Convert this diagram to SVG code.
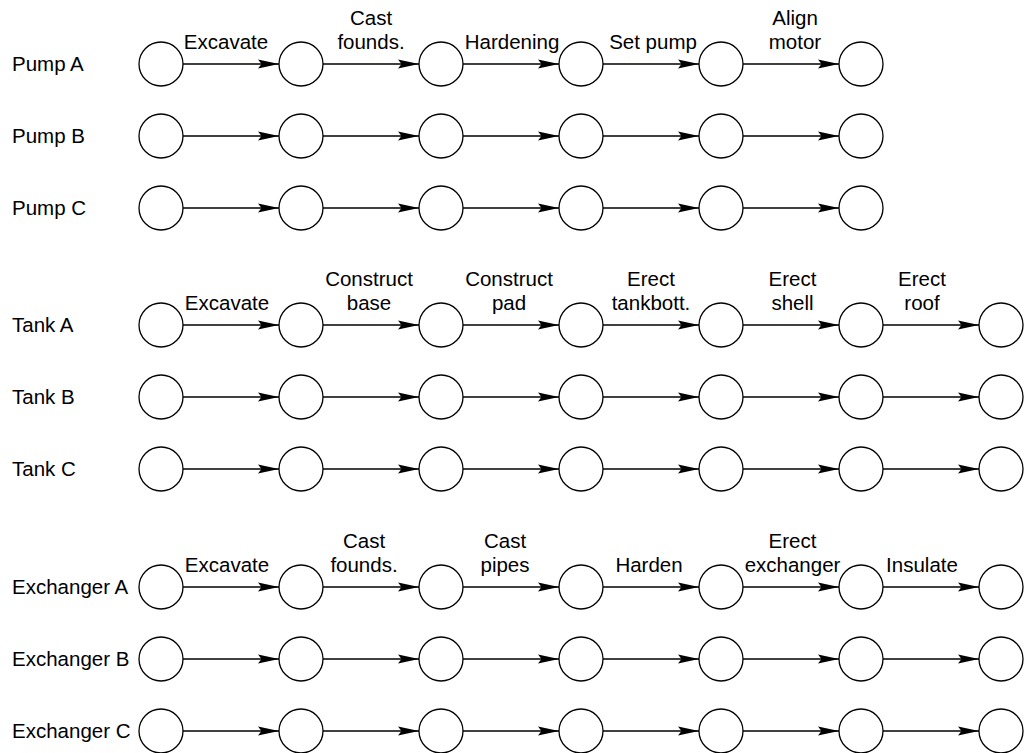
<svg xmlns="http://www.w3.org/2000/svg" width="1024" height="753" viewBox="0 0 1024 753">
<style>
text{font-family:"Liberation Sans",Arial,Helvetica,sans-serif;font-size:20.5px;fill:#000}
.el{text-anchor:middle}
.n{fill:#fff;stroke:#000;stroke-width:1.3}
.e{stroke:#000;stroke-width:1.3;fill:none;marker-end:url(#ah)}
</style>
<defs>
<marker id="ah" markerUnits="userSpaceOnUse" markerWidth="22" markerHeight="12" viewBox="0 -6 22 12" refX="21" refY="0" orient="auto">
<path d="M0,-4.6 L21,0 L0,4.6 L3.5,0 z" fill="#000"/>
</marker>
</defs>
<rect width="1024" height="753" fill="#fff"/>
<g id="row-labels">
<text x="12" y="71">Pump A</text>
<text x="12" y="143">Pump B</text>
<text x="12" y="215">Pump C</text>
<text x="12" y="331.5">Tank A</text>
<text x="12" y="403.5">Tank B</text>
<text x="12" y="475.5">Tank C</text>
<text x="12" y="593.5">Exchanger A</text>
<text x="12" y="665.5">Exchanger B</text>
<text x="12" y="737.5">Exchanger C</text>
</g>
<g id="connectors">
<g id="e-pumpA">
<line class="e" x1="183" y1="64" x2="279" y2="64"/><line class="e" x1="323" y1="64" x2="419" y2="64"/><line class="e" x1="463" y1="64" x2="559" y2="64"/><line class="e" x1="603" y1="64" x2="699" y2="64"/><line class="e" x1="743" y1="64" x2="839" y2="64"/>
<text class="el" x="226" y="48.5">Excavate</text>
<text class="el" x="371" y="24.5">Cast</text><text class="el" x="371" y="48.5">founds.</text>
<text class="el" x="512" y="48.5">Hardening</text>
<text class="el" x="653" y="48.5">Set pump</text>
<text class="el" x="795" y="24.5">Align</text><text class="el" x="795" y="48.5">motor</text>
</g>
<g id="e-pumpB">
<line class="e" x1="183" y1="136" x2="279" y2="136"/><line class="e" x1="323" y1="136" x2="419" y2="136"/><line class="e" x1="463" y1="136" x2="559" y2="136"/><line class="e" x1="603" y1="136" x2="699" y2="136"/><line class="e" x1="743" y1="136" x2="839" y2="136"/>
</g>
<g id="e-pumpC">
<line class="e" x1="183" y1="208" x2="279" y2="208"/><line class="e" x1="323" y1="208" x2="419" y2="208"/><line class="e" x1="463" y1="208" x2="559" y2="208"/><line class="e" x1="603" y1="208" x2="699" y2="208"/><line class="e" x1="743" y1="208" x2="839" y2="208"/>
</g>
<g id="e-tankA">
<line class="e" x1="183" y1="325" x2="279" y2="325"/><line class="e" x1="323" y1="325" x2="419" y2="325"/><line class="e" x1="463" y1="325" x2="559" y2="325"/><line class="e" x1="603" y1="325" x2="699" y2="325"/><line class="e" x1="743" y1="325" x2="839" y2="325"/><line class="e" x1="883" y1="325" x2="979" y2="325"/>
<text class="el" x="227" y="310">Excavate</text>
<text class="el" x="369" y="286">Construct</text><text class="el" x="369" y="310">base</text>
<text class="el" x="509" y="286">Construct</text><text class="el" x="509" y="310">pad</text>
<text class="el" x="651" y="286">Erect</text><text class="el" x="651" y="310">tankbott.</text>
<text class="el" x="792.5" y="286">Erect</text><text class="el" x="792.5" y="310">shell</text>
<text class="el" x="922" y="286">Erect</text><text class="el" x="922" y="310">roof</text>
</g>
<g id="e-tankB">
<line class="e" x1="183" y1="397" x2="279" y2="397"/><line class="e" x1="323" y1="397" x2="419" y2="397"/><line class="e" x1="463" y1="397" x2="559" y2="397"/><line class="e" x1="603" y1="397" x2="699" y2="397"/><line class="e" x1="743" y1="397" x2="839" y2="397"/><line class="e" x1="883" y1="397" x2="979" y2="397"/>
</g>
<g id="e-tankC">
<line class="e" x1="183" y1="469" x2="279" y2="469"/><line class="e" x1="323" y1="469" x2="419" y2="469"/><line class="e" x1="463" y1="469" x2="559" y2="469"/><line class="e" x1="603" y1="469" x2="699" y2="469"/><line class="e" x1="743" y1="469" x2="839" y2="469"/><line class="e" x1="883" y1="469" x2="979" y2="469"/>
</g>
<g id="e-exchA">
<line class="e" x1="183" y1="587" x2="279" y2="587"/><line class="e" x1="323" y1="587" x2="419" y2="587"/><line class="e" x1="463" y1="587" x2="559" y2="587"/><line class="e" x1="603" y1="587" x2="699" y2="587"/><line class="e" x1="743" y1="587" x2="839" y2="587"/><line class="e" x1="883" y1="587" x2="979" y2="587"/>
<text class="el" x="227" y="572">Excavate</text>
<text class="el" x="364" y="548">Cast</text><text class="el" x="364" y="572">founds.</text>
<text class="el" x="505" y="548">Cast</text><text class="el" x="505" y="572">pipes</text>
<text class="el" x="649" y="572">Harden</text>
<text class="el" x="792.5" y="548">Erect</text><text class="el" x="792.5" y="572">exchanger</text>
<text class="el" x="922" y="572">Insulate</text>
</g>
<g id="e-exchB">
<line class="e" x1="183" y1="659" x2="279" y2="659"/><line class="e" x1="323" y1="659" x2="419" y2="659"/><line class="e" x1="463" y1="659" x2="559" y2="659"/><line class="e" x1="603" y1="659" x2="699" y2="659"/><line class="e" x1="743" y1="659" x2="839" y2="659"/><line class="e" x1="883" y1="659" x2="979" y2="659"/>
</g>
<g id="e-exchC">
<line class="e" x1="183" y1="731" x2="279" y2="731"/><line class="e" x1="323" y1="731" x2="419" y2="731"/><line class="e" x1="463" y1="731" x2="559" y2="731"/><line class="e" x1="603" y1="731" x2="699" y2="731"/><line class="e" x1="743" y1="731" x2="839" y2="731"/><line class="e" x1="883" y1="731" x2="979" y2="731"/>
</g>
</g>
<g id="nodes">
<g id="pA0"><circle class="n" cx="161" cy="64" r="22"/></g><g id="pA1"><circle class="n" cx="301" cy="64" r="22"/></g><g id="pA2"><circle class="n" cx="441" cy="64" r="22"/></g><g id="pA3"><circle class="n" cx="581" cy="64" r="22"/></g><g id="pA4"><circle class="n" cx="721" cy="64" r="22"/></g><g id="pA5"><circle class="n" cx="861" cy="64" r="22"/></g>
<g id="pB0"><circle class="n" cx="161" cy="136" r="22"/></g><g id="pB1"><circle class="n" cx="301" cy="136" r="22"/></g><g id="pB2"><circle class="n" cx="441" cy="136" r="22"/></g><g id="pB3"><circle class="n" cx="581" cy="136" r="22"/></g><g id="pB4"><circle class="n" cx="721" cy="136" r="22"/></g><g id="pB5"><circle class="n" cx="861" cy="136" r="22"/></g>
<g id="pC0"><circle class="n" cx="161" cy="208" r="22"/></g><g id="pC1"><circle class="n" cx="301" cy="208" r="22"/></g><g id="pC2"><circle class="n" cx="441" cy="208" r="22"/></g><g id="pC3"><circle class="n" cx="581" cy="208" r="22"/></g><g id="pC4"><circle class="n" cx="721" cy="208" r="22"/></g><g id="pC5"><circle class="n" cx="861" cy="208" r="22"/></g>
<g id="tA0"><circle class="n" cx="161" cy="325" r="22"/></g><g id="tA1"><circle class="n" cx="301" cy="325" r="22"/></g><g id="tA2"><circle class="n" cx="441" cy="325" r="22"/></g><g id="tA3"><circle class="n" cx="581" cy="325" r="22"/></g><g id="tA4"><circle class="n" cx="721" cy="325" r="22"/></g><g id="tA5"><circle class="n" cx="861" cy="325" r="22"/></g><g id="tA6"><circle class="n" cx="1001" cy="325" r="22"/></g>
<g id="tB0"><circle class="n" cx="161" cy="397" r="22"/></g><g id="tB1"><circle class="n" cx="301" cy="397" r="22"/></g><g id="tB2"><circle class="n" cx="441" cy="397" r="22"/></g><g id="tB3"><circle class="n" cx="581" cy="397" r="22"/></g><g id="tB4"><circle class="n" cx="721" cy="397" r="22"/></g><g id="tB5"><circle class="n" cx="861" cy="397" r="22"/></g><g id="tB6"><circle class="n" cx="1001" cy="397" r="22"/></g>
<g id="tC0"><circle class="n" cx="161" cy="469" r="22"/></g><g id="tC1"><circle class="n" cx="301" cy="469" r="22"/></g><g id="tC2"><circle class="n" cx="441" cy="469" r="22"/></g><g id="tC3"><circle class="n" cx="581" cy="469" r="22"/></g><g id="tC4"><circle class="n" cx="721" cy="469" r="22"/></g><g id="tC5"><circle class="n" cx="861" cy="469" r="22"/></g><g id="tC6"><circle class="n" cx="1001" cy="469" r="22"/></g>
<g id="xA0"><circle class="n" cx="161" cy="587" r="22"/></g><g id="xA1"><circle class="n" cx="301" cy="587" r="22"/></g><g id="xA2"><circle class="n" cx="441" cy="587" r="22"/></g><g id="xA3"><circle class="n" cx="581" cy="587" r="22"/></g><g id="xA4"><circle class="n" cx="721" cy="587" r="22"/></g><g id="xA5"><circle class="n" cx="861" cy="587" r="22"/></g><g id="xA6"><circle class="n" cx="1001" cy="587" r="22"/></g>
<g id="xB0"><circle class="n" cx="161" cy="659" r="22"/></g><g id="xB1"><circle class="n" cx="301" cy="659" r="22"/></g><g id="xB2"><circle class="n" cx="441" cy="659" r="22"/></g><g id="xB3"><circle class="n" cx="581" cy="659" r="22"/></g><g id="xB4"><circle class="n" cx="721" cy="659" r="22"/></g><g id="xB5"><circle class="n" cx="861" cy="659" r="22"/></g><g id="xB6"><circle class="n" cx="1001" cy="659" r="22"/></g>
<g id="xC0"><circle class="n" cx="161" cy="731" r="22"/></g><g id="xC1"><circle class="n" cx="301" cy="731" r="22"/></g><g id="xC2"><circle class="n" cx="441" cy="731" r="22"/></g><g id="xC3"><circle class="n" cx="581" cy="731" r="22"/></g><g id="xC4"><circle class="n" cx="721" cy="731" r="22"/></g><g id="xC5"><circle class="n" cx="861" cy="731" r="22"/></g><g id="xC6"><circle class="n" cx="1001" cy="731" r="22"/></g>
</g>
</svg>
